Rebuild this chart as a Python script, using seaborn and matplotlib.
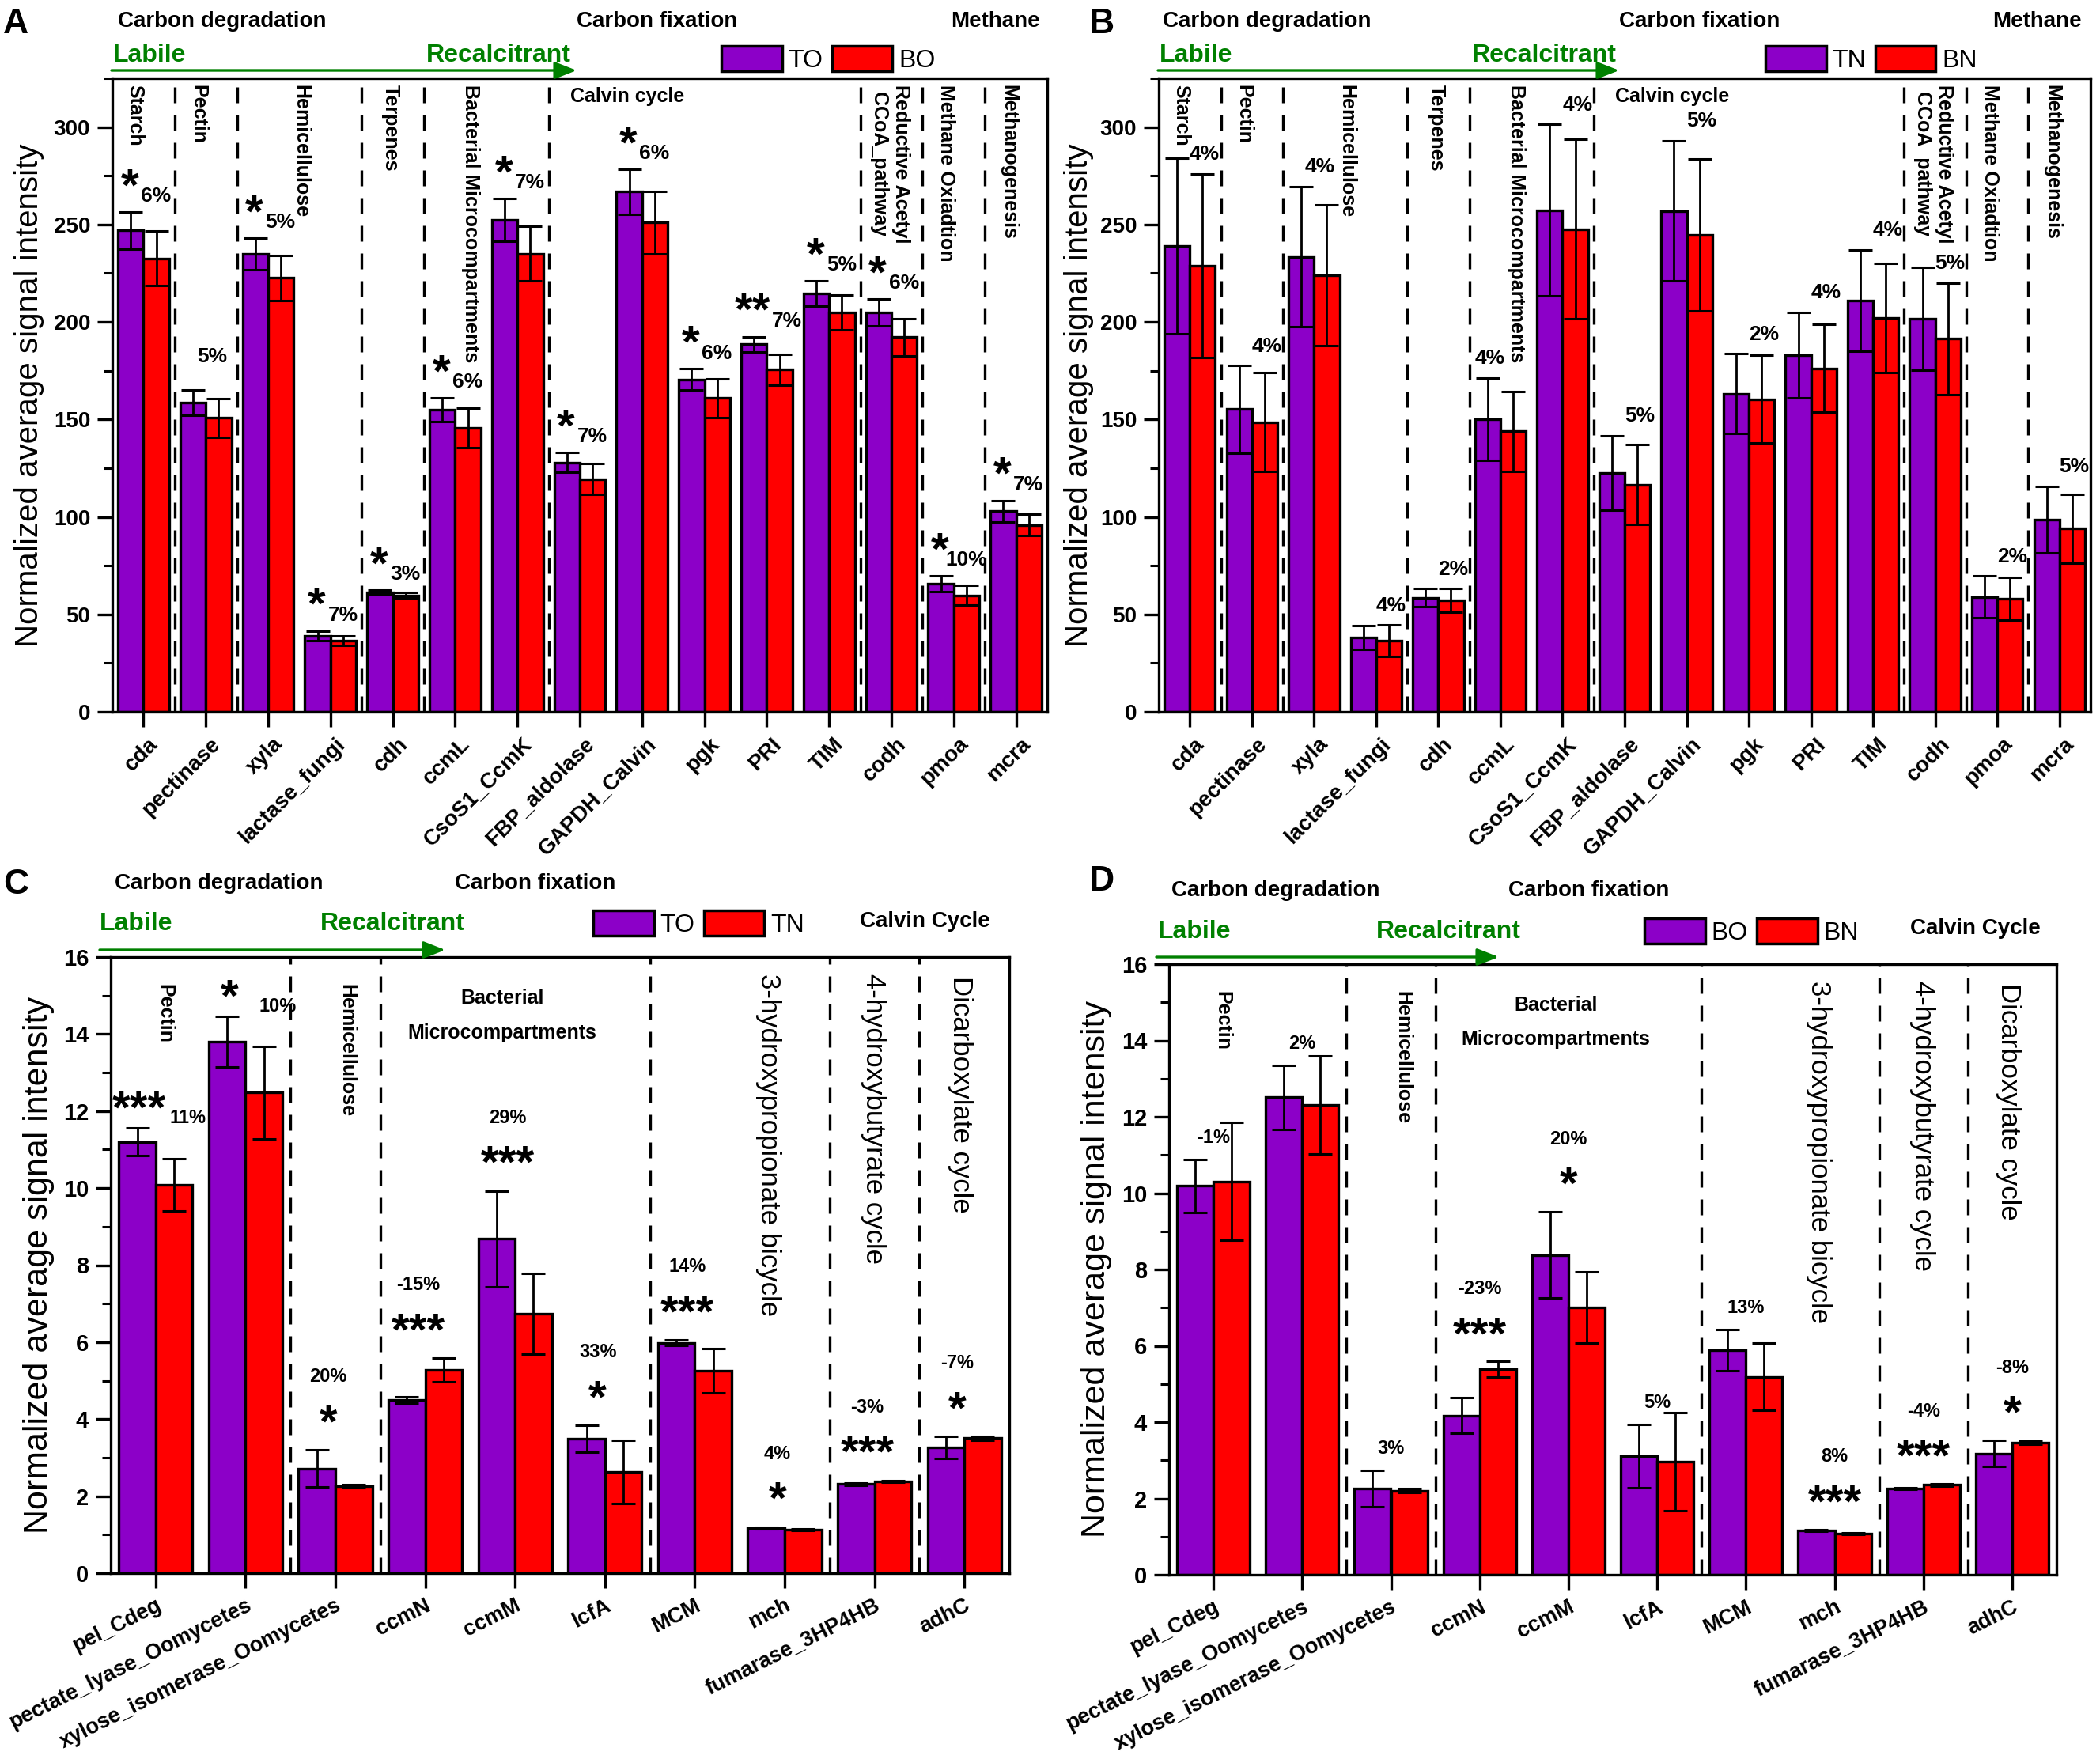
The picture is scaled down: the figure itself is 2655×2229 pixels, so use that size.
import numpy as np
import pandas as pd
import matplotlib
matplotlib.use("Agg")
import matplotlib.pyplot as plt
import seaborn as sns
from matplotlib.patches import Patch, FancyArrowPatch
from matplotlib.ticker import MultipleLocator
from matplotlib.transforms import ScaledTranslation

# ---------------- data: panels A and B ----------------
genes_ab = ["cda", "pectinase", "xyla", "lactase_fungi", "cdh", "ccmL", "CsoS1_CcmK",
            "FBP_aldolase", "GAPDH_Calvin", "pgk", "PRI", "TIM", "codh", "pmoa", "mcra"]

a_to = [247, 158.5, 235, 39, 61.4, 155, 252.3, 128, 266.8, 170.5, 188.5, 214.6, 204.8, 65.8, 103]
a_to_err = [9.5, 6.5, 8, 2.5, 1, 6, 11, 5, 11.5, 5.5, 4, 6.5, 7, 4, 5.5]
a_bo = [232.5, 150.8, 222.6, 36.5, 59.8, 145.7, 235, 119.4, 251, 161, 175.5, 204.8, 192.2, 59.8, 95.9]
a_bo_err = [14, 10, 11.5, 2.5, 1.5, 10, 14, 8, 16, 10, 8, 9, 9.5, 5, 5.5]
a_stars = ["*", "", "*", "*", "*", "*", "*", "*", "*", "*", "**", "*", "*", "*", "*"]
a_pct = ["6%", "5%", "5%", "7%", "3%", "6%", "7%", "7%", "6%", "6%", "7%", "5%", "6%", "10%", "7%"]

b_tn = [239, 155.2, 233.5, 38.2, 58.6, 150.2, 257.4, 122.6, 257, 163.2, 183, 211, 201.6, 58.9, 98.7]
b_tn_err = [45, 22.4, 36, 6, 4.5, 21, 44, 19, 36, 20.5, 22, 26, 26.5, 10.7, 17]
b_bn = [228.8, 148.7, 224, 36.5, 57.2, 144, 247.7, 116.5, 244.8, 160.3, 176.2, 202, 191.4, 58, 94]
b_bn_err = [47, 25.5, 36, 8, 6, 20.5, 46, 20.5, 39, 22.5, 22.5, 28, 28.5, 11, 17.6]
b_pct = ["4%", "4%", "4%", "4%", "2%", "4%", "4%", "5%", "5%", "2%", "4%", "4%", "5%", "2%", "5%"]

groups_ab = ["Starch", "Pectin", "Hemicellulose", "Terpenes", "Bacterial Microcompartments",
             "Reductive Acetyl\nCCoA_pathway", "Methane Oxiadtion", "Methanogenesis"]

# ---------------- data: panels C and D ----------------
genes_cd = ["pel_Cdeg", "pectate_lyase_Oomycetes", "xylose_isomerase_Oomycetes", "ccmN", "ccmM",
            "lcfA", "MCM", "mch", "fumarase_3HP4HB", "adhC"]

c_to = [11.2, 13.8, 2.72, 4.49, 8.68, 3.49, 5.98, 1.17, 2.32, 3.27]
c_to_err = [0.36, 0.65, 0.48, 0.08, 1.25, 0.35, 0.07, 0.03, 0.03, 0.29]
c_tn = [10.08, 12.48, 2.26, 5.28, 6.74, 2.63, 5.26, 1.12, 2.39, 3.51]
c_tn_err = [0.68, 1.2, 0.05, 0.3, 1.05, 0.82, 0.58, 0.02, 0.02, 0.05]
c_stars = ["***", "*", "*", "***", "***", "*", "***", "*", "***", "*"]
c_pct = ["11%", "10%", "20%", "-15%", "29%", "33%", "14%", "4%", "-3%", "-7%"]

d_bo = [10.19, 12.51, 2.26, 4.17, 8.38, 3.11, 5.88, 1.17, 2.26, 3.18]
d_bo_err = [0.7, 0.84, 0.47, 0.47, 1.13, 0.82, 0.54, 0.02, 0.03, 0.35]
d_bn = [10.31, 12.31, 2.2, 5.39, 7.0, 2.96, 5.19, 1.07, 2.36, 3.46]
d_bn_err = [1.55, 1.28, 0.05, 0.2, 0.93, 1.28, 0.88, 0.02, 0.03, 0.04]
d_stars = ["", "", "", "***", "*", "", "", "***", "***", "*"]
d_pct = ["-1%", "2%", "3%", "-23%", "20%", "5%", "13%", "8%", "-4%", "-8%"]

groups_cd_bold = ["Pectin", "Hemicellulose"]
groups_cd_thin = ["3-hydroxypropionate bicycle", "4-hydroxybutyrate cycle", "Dicarboxylate cycle"]

# ---------------- style ----------------
W, H = 2655, 2229
PURPLE = "#8c00c8"
RED = "#ff0000"
GREEN = "#008000"
STAR_FS = 42

sns.set_theme(style="ticks", rc={"axes.edgecolor": "black", "axes.linewidth": 2.4,
                                 "xtick.color": "black", "ytick.color": "black",
                                 "text.color": "black", "axes.labelcolor": "black"})
plt.rcParams["font.family"] = ["Liberation Sans", "DejaVu Sans"]
plt.rcParams["font.weight"] = "bold"

fig = plt.figure(figsize=(W / 100, H / 100), dpi=100)

# x positions of the rotated group labels in A/B (category units)
AB_GROUP_X = [-0.14, 0.87, 2.52, 3.96, 5.25, 11.97, 12.88, 13.88]


def px(x, y):
    return x / W, 1 - y / H


def make_axes(l, t, r, b):
    return fig.add_axes([l / W, 1 - b / H, (r - l) / W, (b - t) / H])


def bars(ax, genes, v1, e1, v2, e2, names, cap):
    n = len(genes)
    df = pd.DataFrame({"gene": genes * 2,
                       "group": [names[0]] * n + [names[1]] * n,
                       "value": list(v1) + list(v2)})
    sns.barplot(data=df, x="gene", y="value", hue="group", order=genes, hue_order=names,
                palette=[PURPLE, RED], width=0.82, saturation=1, edgecolor="black",
                linewidth=2.4, errorbar=None, legend=False, ax=ax, zorder=2)
    for cont, err in zip(ax.containers, (e1, e2)):
        xs = [p.get_x() + p.get_width() / 2 for p in cont]
        hs = [p.get_height() for p in cont]
        ax.errorbar(xs, hs, yerr=err, fmt="none", ecolor="black", elinewidth=2,
                    capsize=cap, capthick=2.2, zorder=3)
    return np.array(v1) + np.array(e1), np.array(v2) + np.array(e2)


def style(ax, genes, ymax, major, minor, rot, lab_fs, tick_fs, ylab_fs, ylab_x, bounds, dx):
    n = len(genes)
    ax.set_xlim(-0.5, n - 0.5)
    ax.set_ylim(0, ymax)
    ax.yaxis.set_major_locator(MultipleLocator(major))
    ax.yaxis.set_minor_locator(MultipleLocator(minor))
    ax.tick_params(axis="both", which="major", direction="out", length=14, width=2.4, pad=6)
    ax.tick_params(axis="y", which="major", labelsize=tick_fs)
    ax.tick_params(axis="y", which="minor", direction="out", length=8, width=2.2)
    ax.tick_params(axis="x", which="minor", bottom=False)
    ax.set_xticks(range(n))
    ax.set_xticklabels(genes, rotation=rot, ha="right", rotation_mode="anchor", fontsize=lab_fs)
    off = ScaledTranslation(dx / 72, 0, fig.dpi_scale_trans)
    for lbl in ax.get_xticklabels():
        lbl.set_transform(lbl.get_transform() + off)
    ax.set_xlabel("")
    ax.set_ylabel("Normalized average signal intensity", fontsize=ylab_fs, fontweight="normal")
    ax.yaxis.set_label_coords(ylab_x, 0.5)
    for s in ax.spines.values():
        s.set_linewidth(2.4)
        s.set_color("black")
    for b in bounds:
        ax.axvline(b, color="black", lw=2.4, ls=(0, (6, 4.5)), zorder=1)


def star(ax, x, y, s):
    ax.annotate(s, xy=(x, y), xytext=(0, -0.55 * STAR_FS), textcoords="offset points",
                ha="center", va="baseline", fontsize=STAR_FS, annotation_clip=False)


def pct(ax, x, y, s, fs):
    ax.text(x, y, s, ha="center", va="center", fontsize=fs)


def legend(ax, names, x, y):
    handles = [Patch(facecolor=PURPLE, edgecolor="black", linewidth=2.5),
               Patch(facecolor=RED, edgecolor="black", linewidth=2.5)]
    ax.legend(handles, names, loc="center left", bbox_to_anchor=px(x, y),
              bbox_transform=fig.transFigure, ncol=2, frameon=False,
              prop={"size": 23, "weight": "normal"}, handlelength=2.4, handleheight=1.15,
              handletextpad=0.25, columnspacing=0.35, borderpad=0, borderaxespad=0)


def arrow(x0, x1, y):
    fig.add_artist(FancyArrowPatch(px(x0, y), px(x1, y), transform=fig.transFigure,
                                   arrowstyle="-|>,head_length=1.4,head_width=0.55",
                                   mutation_scale=12, color=GREEN, lw=2.4,
                                   shrinkA=0, shrinkB=0))


def headers(items):
    for s, x, y, kind in items:
        if kind == "letter":
            fig.text(*px(x, y), s, ha="left", va="center", fontsize=32)
        elif kind == "green":
            fig.text(*px(x, y), s, ha="left", va="center", fontsize=23, color=GREEN)
        else:
            fig.text(*px(x, y), s, ha="left", va="center", fontsize=20)


def ab_groups(ax):
    tr = ax.get_xaxis_transform()
    for s, x in zip(groups_ab, AB_GROUP_X):
        ax.text(x, 0.99, s, transform=tr, rotation=-90, ha="center", va="top", fontsize=18)
    ax.text(7.76, 0.971, "Calvin cycle", transform=tr, ha="center", va="center", fontsize=18)


def cd_groups(ax):
    tr = ax.get_xaxis_transform()
    for s, x in zip(groups_cd_bold, [0.1, 2.13]):
        ax.text(x, 0.956, s, transform=tr, rotation=-90, ha="center", va="top", fontsize=18)
    for s, x, y in zip(groups_cd_thin, [6.82, 7.99, 8.96], [0.973, 0.973, 0.969]):
        ax.text(x, y, s, transform=tr, rotation=-90, ha="center", va="top", fontsize=25,
                fontweight="normal")
    ax.text(3.86, 0.933, "Bacterial", transform=tr, ha="center", va="center", fontsize=18)
    ax.text(3.86, 0.877, "Microcompartments", transform=tr, ha="center", va="center", fontsize=18)


bounds_ab = [0.5, 1.5, 3.5, 4.5, 6.5, 11.5, 12.5, 13.5]
bounds_cd = [1.5, 2.5, 5.5, 7.5, 8.5]

# ---------------- panel A ----------------
axA = make_axes(142, 99, 1324, 900)
t1, t2 = bars(axA, genes_ab, a_to, a_to_err, a_bo, a_bo_err, ["TO", "BO"], 11)
style(axA, genes_ab, 325, 50, 25, 45, 20, 20, 29, -0.073, bounds_ab, 4)
ab_groups(axA)
for i in range(len(genes_ab)):
    if a_stars[i]:
        star(axA, i - 0.22, t1[i] + 19, a_stars[i])
        pct(axA, i + 0.2 + 0.13 * (len(a_stars[i]) - 1), t1[i] + 8, a_pct[i], 19)
    else:
        pct(axA, i + 0.1, t1[i] + 17, a_pct[i], 19)
legend(axA, ["TO", "BO"], 912, 75)
headers([("A", 4, 30, "letter"), ("Carbon degradation", 149, 27, "head"),
         ("Carbon fixation", 729, 27, "head"), ("Methane", 1202, 27, "head"),
         ("Labile", 143, 70, "green"), ("Recalcitrant", 539, 70, "green")])
arrow(141, 729, 89)

# ---------------- panel B ----------------
axB = make_axes(1465, 99, 2643, 900)
t1, t2 = bars(axB, genes_ab, b_tn, b_tn_err, b_bn, b_bn_err, ["TN", "BN"], 11)
style(axB, genes_ab, 325, 50, 25, 45, 20, 20, 29, -0.070, bounds_ab, 4)
ab_groups(axB)
for i in range(len(genes_ab)):
    # keep the label clear of the rotated group names around it
    nxt = [g for g in AB_GROUP_X if g > i]
    x = i + 0.24
    if nxt:
        x = min(x, nxt[0] - 0.42)
    y = t1[i] + 10
    if t1[i] > 190 and any(0 < x - g < 0.45 for g in AB_GROUP_X):
        y = t1[i] + 2
    pct(axB, x, y, b_pct[i], 19)
legend(axB, ["TN", "BN"], 2232, 75)
headers([("B", 1377, 30, "letter"), ("Carbon degradation", 1470, 27, "head"),
         ("Carbon fixation", 2047, 27, "head"), ("Methane", 2519, 27, "head"),
         ("Labile", 1466, 70, "green"), ("Recalcitrant", 1861, 70, "green")])
arrow(1464, 2047, 89)

# ---------------- panel C ----------------
axC = make_axes(140, 1210, 1276, 1989)
t1, t2 = bars(axC, genes_cd, c_to, c_to_err, c_tn, c_tn_err, ["TO", "TN"], 11)
style(axC, genes_cd, 16, 2, 1, 26.5, 19.5, 21, 31, -0.0625, bounds_cd, 0)
cd_groups(axC)
for i in range(len(genes_cd)):
    if i < 2:
        star(axC, i - 0.18, t1[i] + 0.8, c_stars[i])
        pct(axC, i + 0.36, t1[i] + 0.27, c_pct[i], 17)
    else:
        m = max(t1[i], t2[i])
        star(axC, i - 0.08, m + 1.0, c_stars[i])
        pct(axC, i - 0.08, m + 1.9, c_pct[i], 17)
legend(axC, ["TO", "TN"], 750, 1168)
headers([("C", 4, 1118, "letter"), ("Carbon degradation", 145, 1117, "head"),
         ("Carbon fixation", 575, 1117, "head"), ("Calvin Cycle", 1087, 1165, "head"),
         ("Labile", 126, 1168, "green"), ("Recalcitrant", 405, 1168, "green")])
arrow(126, 563, 1201)

# ---------------- panel D ----------------
axD = make_axes(1478, 1219, 2600, 1991)
t1, t2 = bars(axD, genes_cd, d_bo, d_bo_err, d_bn, d_bn_err, ["BO", "BN"], 11)
style(axD, genes_cd, 16, 2, 1, 26.5, 19.5, 21, 31, -0.064, bounds_cd, 0)
cd_groups(axD)
for i in range(len(genes_cd)):
    if d_stars[i]:
        m = max(t1[i], t2[i])
        star(axD, i, m + 1.0, d_stars[i])
        pct(axD, i, m + 1.9, d_pct[i], 17)
    else:
        pct(axD, i, t1[i] + 0.57, d_pct[i], 17)
legend(axD, ["BO", "BN"], 2079, 1178)
headers([("D", 1377, 1115, "letter"), ("Carbon degradation", 1481, 1126, "head"),
         ("Carbon fixation", 1907, 1126, "head"), ("Calvin Cycle", 2415, 1174, "head"),
         ("Labile", 1464, 1178, "green"), ("Recalcitrant", 1740, 1178, "green")])
arrow(1462, 1895, 1210)

fig.savefig("out.png", dpi=100)
